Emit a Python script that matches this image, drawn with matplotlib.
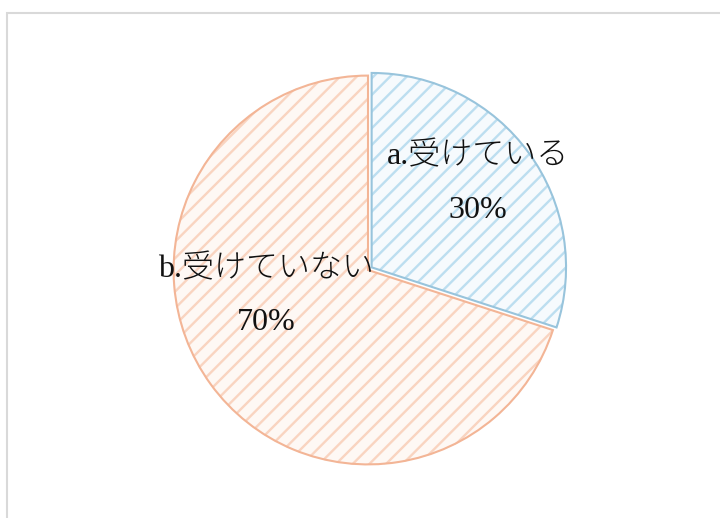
import matplotlib.pyplot as plt
from matplotlib.patches import Rectangle, Wedge

plt.rcParams["font.family"] = ["Liberation Serif", "Noto Sans CJK JP"]
plt.rcParams["hatch.linewidth"] = 1.7

# survey answers and their shares (%)
categories = ["a.受けている", "b.受けていない"]
shares = [30, 70]
explode = [4.5, 0.0]  # pie() offsets wedges in data units, here pixels

face_colors = ["#f6fafd", "#fef8f4"]
hatch_colors = ["#bcdef0", "#f9d4c0"]
rim_colors = ["#98c4dc", "#f3b596"]
# label centres (x, name y, percent y) in pixel coordinates from the top-left
text_xy = [(478, 157, 210), (266, 270, 323)]

W, H = 720, 518
fig = plt.figure(figsize=(7.2, 5.18), dpi=100)
ax = fig.add_axes([0, 0, 1, 1])

# chart area frame (runs off the right and bottom edges)
fig.patches.append(
    Rectangle((7 / W, -0.1), 1.2, 1 - 13 / H + 0.1, transform=fig.transFigure,
              fill=False, edgecolor="#d9d9d9", linewidth=1.5)
)

wedges, _ = ax.pie(
    shares,
    explode=explode,
    center=(368, H - 270),
    radius=195,
    startangle=90,
    counterclock=False,
    frame=True,
)
for wedge, fc, hc in zip(wedges, face_colors, hatch_colors):
    wedge.set_facecolor(fc)
    wedge.set_edgecolor(hc)
    wedge.set_hatch("//")
    wedge.set_linewidth(0)

# slice outlines in a deeper tint than the hatching
for wedge, rc in zip(wedges, rim_colors):
    ax.add_patch(Wedge(wedge.center, wedge.r - 0.6, wedge.theta1, wedge.theta2,
                       facecolor="none", edgecolor=rc, linewidth=1.5))

ax.set_xlim(0, W)
ax.set_ylim(0, H)
ax.set_aspect("equal")
ax.axis("off")

for name, share, (x, y1, y2) in zip(categories, shares, text_xy):
    ax.text(x, H - y1, name, ha="center", va="center", fontsize=23,
            fontweight="light", color="#111111")
    ax.text(x, H - y2, f"{share}%", ha="center", va="center", fontsize=23,
            color="#111111")

fig.savefig("out.png", dpi=100)
